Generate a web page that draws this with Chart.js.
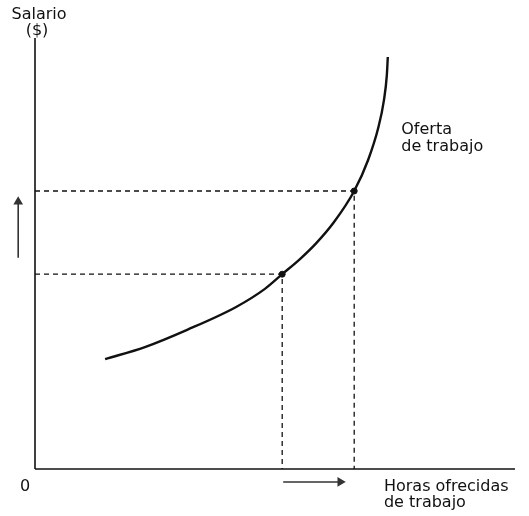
<!DOCTYPE html>
<html>
<head>
<meta charset="utf-8">
<script src="https://cdn.jsdelivr.net/npm/chart.js@4"></script>
<style>
  body { margin: 0; background: #fff; }
  #wrap { position: relative; width: 529px; height: 516px; }
</style>
</head>
<body>
<div id="wrap"><canvas id="chart"></canvas></div>
<script>
// supply curve (hours offered vs wage)
var curveHours = [14.6, 22.9, 31.7, 41.9, 47.9, 51.5, 55.2, 58.6, 62.3, 66.5, 69.4, 71.5, 72.7, 73.3, 73.5];
var curveWage  = [25.5, 28.3, 32.3, 37.6, 41.8, 45.2, 48.7, 52.4, 57.3, 64.5, 71.7, 79.1, 85.6, 91.4, 95.6];

// the two marked points on the curve
var markHours = [51.5, 66.5];
var markWage  = [45.2, 64.5];

// arrows showing the direction of change (outside the quadrant)
var upArrowX = [-3.5, -3.5];
var upArrowY = [49.0, 62.0];
var rightArrowX = [51.7, 63.6];
var rightArrowY = [-3.0, -3.0];

var ink = '#111';

function pts(xs, ys) {
    return xs.map(function (x, i) { return { x: x, y: ys[i] }; });
}

function headOnly(ctx) {
    return ctx.dataIndex === 1 ? 4 : 0;
}

var datasets = [];

// axes
datasets.push({ data: pts([0, 100], [0, 0]), borderColor: ink, borderWidth: 1.6, pointRadius: 0, showLine: true });
datasets.push({ data: pts([0, 0], [0, 100]), borderColor: ink, borderWidth: 1.6, pointRadius: 0, showLine: true });

// dashed guides to each marked point
markHours.forEach(function (h, i) {
    datasets.push({
        data: pts([0, h, h], [markWage[i], markWage[i], 0]),
        borderColor: ink, borderWidth: 1.3, borderDash: [5, 4],
        pointRadius: 0, showLine: true
    });
});

// supply curve
datasets.push({
    data: pts(curveHours, curveWage),
    borderColor: ink, borderWidth: 2.4, pointRadius: 0,
    showLine: true, cubicInterpolationMode: 'monotone', clip: false
});

// marked points
datasets.push({
    data: pts(markHours, markWage),
    showLine: false, pointRadius: 3, backgroundColor: ink, borderColor: ink
});

// arrows
datasets.push({
    data: pts(upArrowX, upArrowY),
    borderColor: '#333', borderWidth: 1.6, showLine: true,
    pointStyle: 'triangle', pointRadius: headOnly, pointRotation: 0,
    backgroundColor: '#333', pointBackgroundColor: '#333', pointBorderColor: '#333'
});
datasets.push({
    data: pts(rightArrowX, rightArrowY),
    borderColor: '#333', borderWidth: 1.6, showLine: true,
    pointStyle: 'triangle', pointRadius: headOnly, pointRotation: 90,
    backgroundColor: '#333', pointBackgroundColor: '#333', pointBorderColor: '#333'
});

// text labels placed through the scales
var labelsPlugin = {
    id: 'labels',
    afterDraw: function (chart) {
        var ctx = chart.ctx;
        var x = chart.scales.x, y = chart.scales.y;
        var x0 = x.getPixelForValue(0), y0 = y.getPixelForValue(0);
        ctx.save();
        ctx.fillStyle = ink;
        ctx.textBaseline = 'middle';

        ctx.font = '16px "DejaVu Sans"';
        ctx.textAlign = 'center';
        ctx.fillText('Salario', x0 + 4, 15);
        ctx.fillText('($)', x0 + 2, 31);
        ctx.fillText('0', x0 - 10, y0 + 18);

        ctx.textAlign = 'left';
        ctx.fillText('Oferta', x.getPixelForValue(76.3), y.getPixelForValue(78.6));
        ctx.fillText('de trabajo', x.getPixelForValue(76.3), y.getPixelForValue(74.7));
        ctx.fillText('Horas ofrecidas', x.getPixelForValue(72.7), y0 + 18);
        ctx.fillText('de trabajo', x.getPixelForValue(72.7), y0 + 34);
        ctx.restore();
    }
};

new Chart(document.getElementById('chart'), {
    type: 'scatter',
    data: { datasets: datasets },
    options: {
        responsive: true,
        maintainAspectRatio: false,
        animation: false,
        layout: { padding: { left: 6.2, right: 14, top: 38, bottom: 25.45 } },
        plugins: { legend: { display: false }, tooltip: { enabled: false } },
        scales: {
            x: { type: 'linear', min: -6, max: 100, display: false },
            y: { type: 'linear', min: -5, max: 100, display: false }
        }
    },
    plugins: [labelsPlugin]
});
</script>
</body>
</html>
